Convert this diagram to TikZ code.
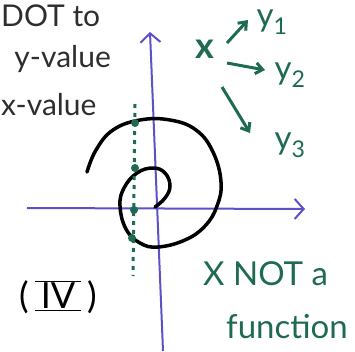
\documentclass[tikz,border=0pt]{standalone}
\usepackage{fontspec}
\setmainfont{Lato}
\usetikzlibrary{arrows.meta,positioning}
\definecolor{PenGreen}{HTML}{1F6B52}
\definecolor{AxisBlue}{HTML}{5A52C6}
\definecolor{PenGray}{HTML}{2E2E2E}
\begin{document}
\begin{tikzpicture}[x=1pt,y=-1pt, every node/.style={inner sep=1pt}, note/.style={text=PenGray,font=\fontsize{30}{32}\selectfont}, greennote/.style={text=PenGreen,font=\fontsize{33}{35}\selectfont}, axis/.style={AxisBlue,line width=2pt,-{Straight Barb[length=9pt,width=20pt]}}, pen/.style={PenGreen,line width=3pt,-{Straight Barb[length=7pt,width=11pt]}}, hit/.style={circle,fill=PenGreen,inner sep=0pt,minimum size=8pt}]
\useasboundingbox (0,0) rectangle (355,351);
\clip (0,0) rectangle (355,351);
\coordinate (xleft) at (27,208);
\coordinate (xright) at (305,209);
\coordinate (ybottom) at (163,351);
\coordinate (ytop) at (150,32);
\draw[axis] (xleft) -- (xright);
\draw[axis] (ybottom) -- (ytop);
\draw[black,line width=3.5pt,line cap=round] plot[smooth,tension=0.7] coordinates {(155,207) (165,198) (170,186) (165,173) (153,168) (137,173) (124,188) (120,206) (126,229) (140,243) (158,247) (185,240) (205,226) (217,206) (221,182) (213,152) (196,130) (170,120) (140,120) (113,130) (96,150) (87,172)};
\coordinate (vtop) at (135,104);
\coordinate (vbottom) at (133,276);
\draw[PenGreen,line width=3pt,dash pattern=on 4pt off 5pt] (vtop) -- (vbottom);
\node[hit] (h1) at (135,123) {};
\node[hit] (h2) at (135,168) {};
\node[hit] (h3) at (134,210) {};
\node[hit] (h4) at (132,238) {};
\node[note,anchor=base west] (dotto) at (0,26) {DOT to};
\node[note,anchor=base east] (yvalue) at (112,67) {y-value};
\node[note,anchor=base west] (xvalue) at (0,115) {x-value};
\node[greennote,font=\fontsize{36}{38}\selectfont\bfseries] (x) at (205,49) {x};
\node[greennote] (y1) at (272,22) {y\textsubscript{1}};
\node[greennote] (y2) at (290,75) {y\textsubscript{2}};
\node[greennote] (y3) at (290,145) {y\textsubscript{3}};
\draw[pen] ([shift={(22,-6)}]x.center) -- ([shift={(-24,-2)}]y1.center);
\draw[pen] ([shift={(22,14)}]x.center) -- ([shift={(-25,-5)}]y2.center);
\draw[pen] ([shift={(17,38)}]x.center) -- ([shift={(-40,-12)}]y3.center);
\node[note,text=black,font=\fontsize{36}{38}\selectfont] (label) at (58,297) {(\,$\overline{\underline{\hbox{\,IV\,}}}$\,)};
\node[greennote,anchor=base west] (notfun) at (202,285) {X NOT a};
\node[greennote,anchor=base west] (fun) at (225,338) {function};
\end{tikzpicture}
\end{document}
